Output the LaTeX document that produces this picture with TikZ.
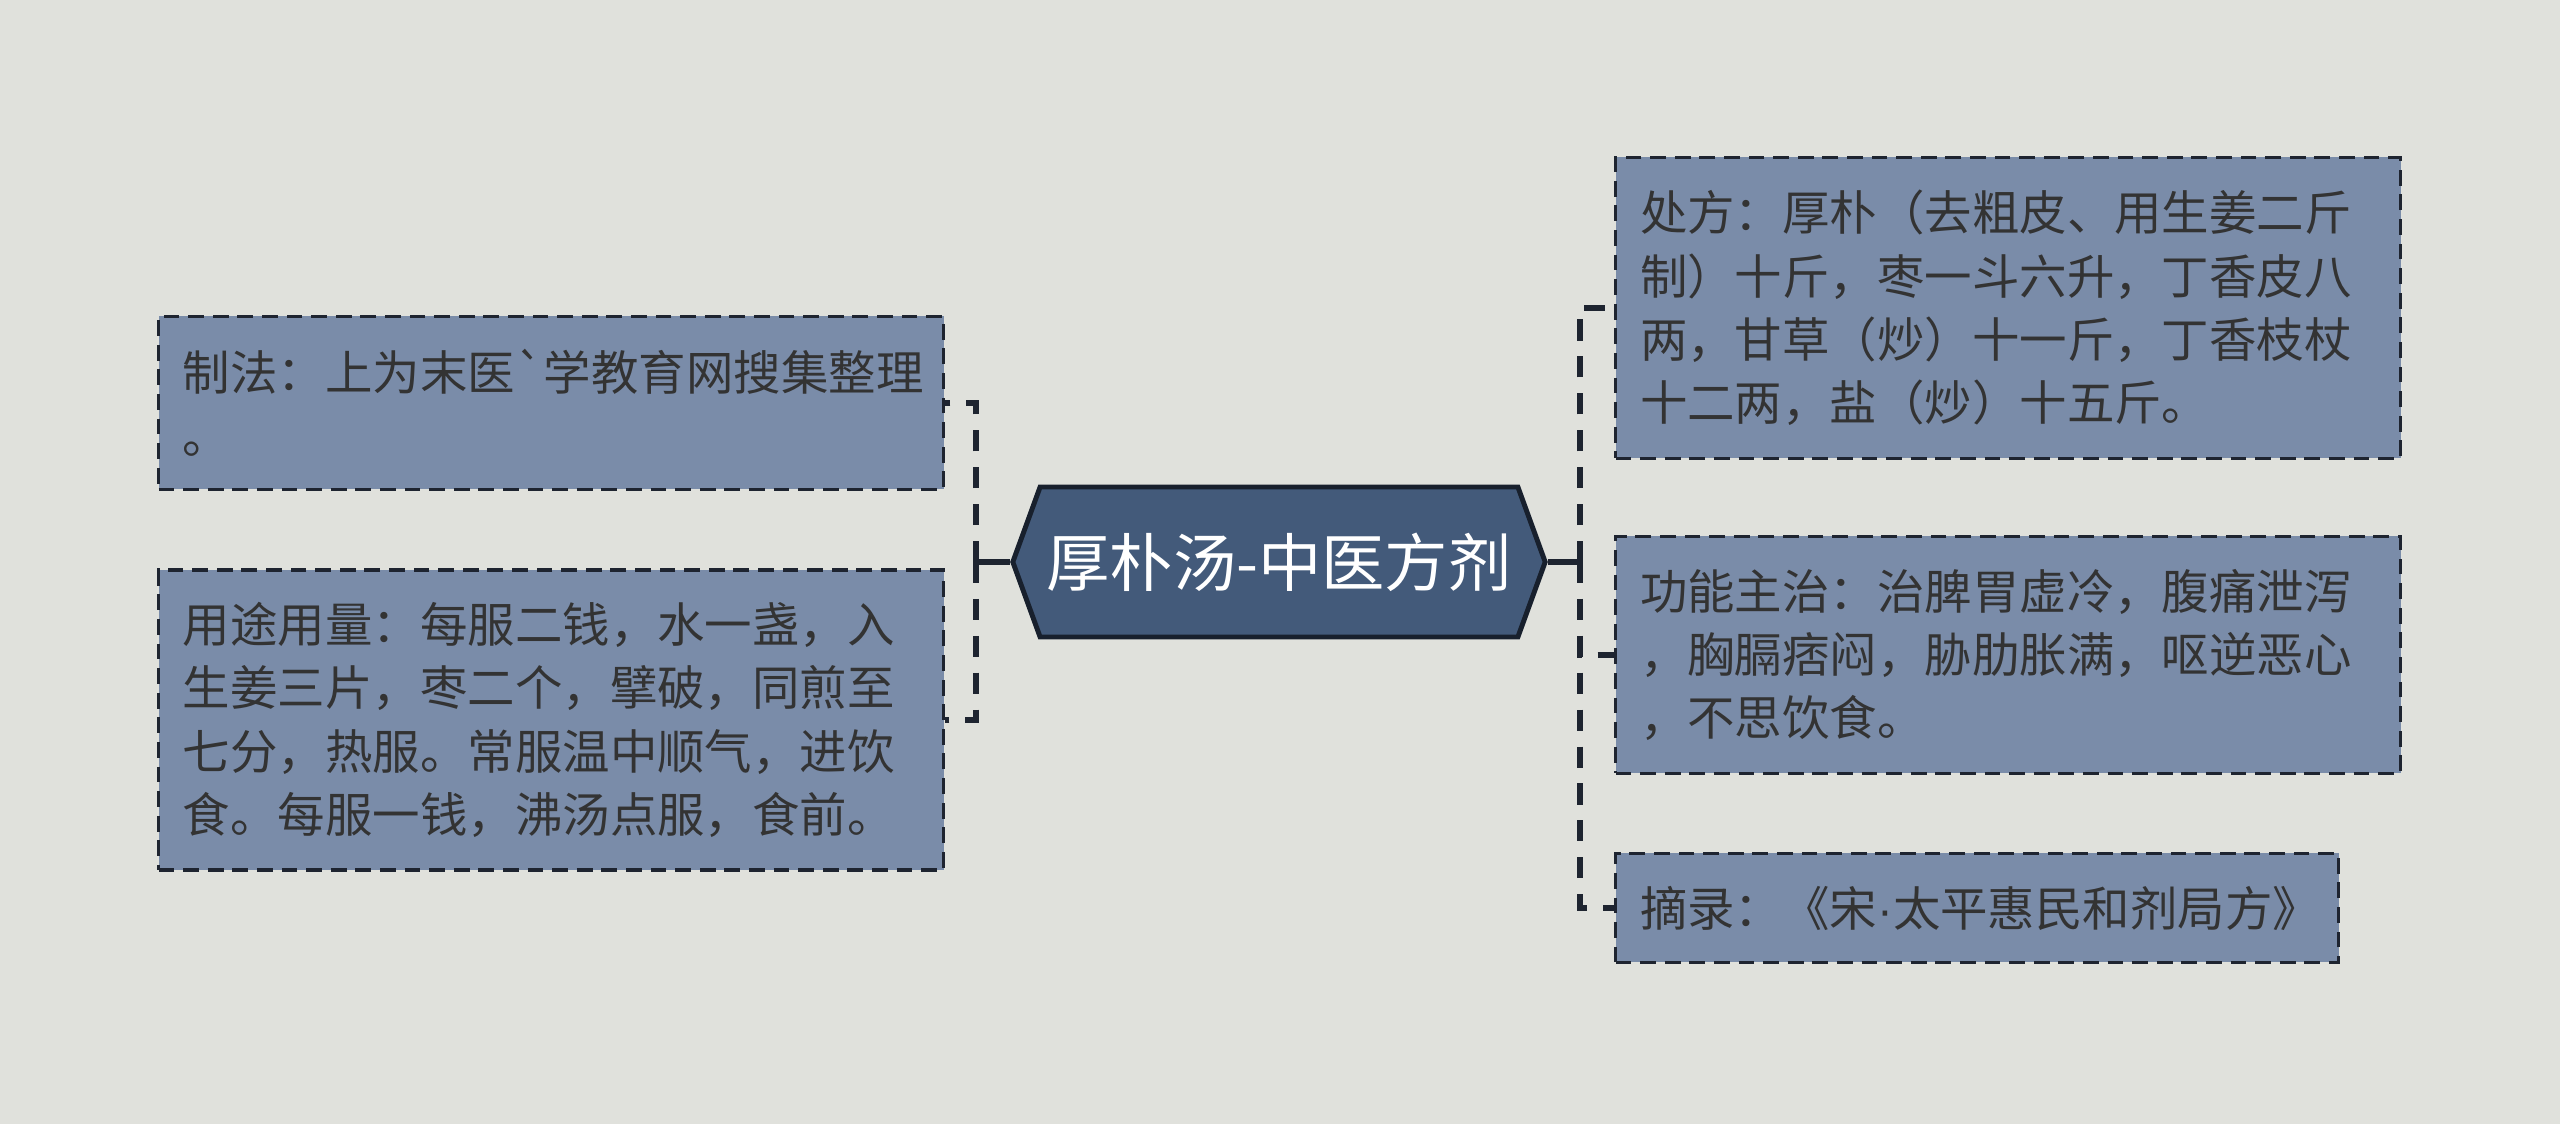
\documentclass[tikz,border=0pt]{standalone}
\usepackage{fontspec}
\setmainfont{Noto Sans CJK SC}
\newfontfamily\rawfont{Noto Sans CJK SC}[Ligatures=TeXOff]
\newfontfamily\latinfont{Liberation Sans}
\usetikzlibrary{shapes.symbols}
\definecolor{bgcol}{HTML}{E0E1DC}
\definecolor{boxcol}{HTML}{7A8CA9}
\definecolor{rootcol}{HTML}{435A7A}
\definecolor{rootline}{HTML}{18202D}
\definecolor{linecol}{HTML}{1E2430}
\definecolor{txtcol}{HTML}{333333}
\begin{document}
\begin{tikzpicture}[
  leaf/.style={draw=linecol, dash pattern=on 4.5pt off 2.5pt, line width=0.9pt,
    fill=boxcol, text=txtcol, align=left, text width=7.36cm,
    inner xsep=0.245cm, inner ysep=0pt, font=\fontsize{13.5pt}{18pt}\selectfont},
  root/.style={signal, signal to=east and west, signal pointer angle=140,
    draw=rootline, line width=1.4pt, fill=rootcol, text=white, inner xsep=0.065cm,
    minimum width=5.26cm, minimum height=1.5cm, font=\fontsize{18pt}{22pt}\selectfont},
  link/.style={draw=linecol, line width=1.5pt, dash pattern=on 6pt off 4.5pt}]
\useasboundingbox (0,0) rectangle (25.6,-11.24);
\fill [bgcol] (0,0) rectangle (25.6,-11.24);
% centre
\node [root] (hpt) at (12.79,-5.62) {厚朴汤-中医方剂};
% left side
\node [leaf, minimum height=1.73cm] (zhifa) at (5.51,-4.03)
  {制法：上为末医{\rawfont`}学教育网搜集整理\\。};
\node [leaf, minimum height=3.00cm] (yongtu) at (5.51,-7.20)
  {用途用量：每服二钱，水一盏，入\\生姜三片，枣二个，擘破，同煎至\\七分，热服。常服温中顺气，进饮\\食。每服一钱，沸汤点服，食前。};
% right side
\node [leaf, minimum height=3.01cm] (chufang) at (20.08,-3.08)
  {处方：厚朴（去粗皮、用生姜二斤\\制）十斤，枣一斗六升，丁香皮八\\两，甘草（炒）十一斤，丁香枝杖\\十二两，盐（炒）十五斤。};
\node [leaf, minimum height=2.37cm] (gongneng) at (20.08,-6.55)
  {功能主治：治脾胃虚冷，腹痛泄泻\\，胸膈痞闷，胁肋胀满，呕逆恶心\\，不思饮食。};
\node [leaf, minimum height=1.09cm, text width=6.74cm] (zhailu) at (19.77,-9.08)
  {摘录：《宋{\latinfont ·}太平惠民和剂局方》};
% connectors
\coordinate (lj) at (9.76,-5.62);
\coordinate (rj) at (15.80,-5.62);
\draw [linecol, line width=1.5pt] (hpt.west) -- (lj);
\draw [linecol, line width=1.5pt] (hpt.east) -- (rj);
\draw [link] (lj) |- (zhifa.east);
\draw [link] (lj) |- (yongtu.east);
\draw [link] (rj) |- (chufang.west);
\draw [link] (rj) |- (gongneng.west);
\draw [link] (rj) |- (zhailu.west);
\end{tikzpicture}
\end{document}
